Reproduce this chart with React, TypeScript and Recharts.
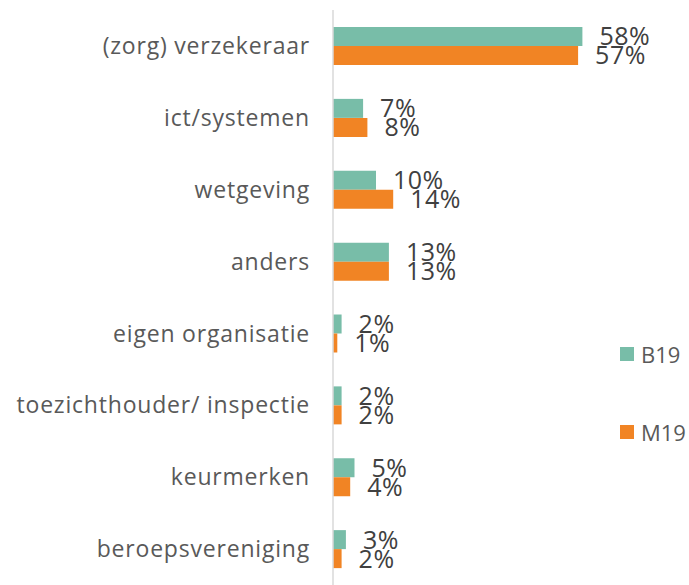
import { BarChart, Bar, XAxis, YAxis, LabelList } from "recharts"

const categories = [
  "(zorg) verzekeraar",
  "ict/systemen",
  "wetgeving",
  "anders",
  "eigen organisatie",
  "toezichthouder/ inspectie",
  "keurmerken",
  "beroepsvereniging",
]
const b19 = [58, 7, 10, 13, 2, 2, 5, 3]
const m19 = [57, 8, 14, 13, 1, 2, 4, 2]

const seriesNames = ["B19", "M19"]
const colors = ["#78bda8", "#f18424"]

const data = categories.map((name, i) => ({ name, B19: b19[i], M19: m19[i] }))

const font = "'Open Sans', sans-serif"

export default function App() {
  return (
    <div style={{ position: "absolute", left: 0, top: 0, width: 689, height: 585, background: "#fff", fontFamily: font }}>
      <BarChart
        width={689}
        height={585}
        data={data}
        layout="vertical"
        margin={{ top: 10, right: 12, left: 0, bottom: 0 }}
        barGap={0}
        barSize={19}
      >
        <XAxis type="number" domain={[0, 80]} hide />
        <YAxis
          type="category"
          dataKey="name"
          width={333}
          tickLine={false}
          tickMargin={17}
          axisLine={{ stroke: "#d9d9d9", strokeWidth: 1.5 }}
          tick={{ fill: "#595959", fontSize: 23, fontFamily: font, letterSpacing: 0.8 }}
          interval={0}
        />
        {seriesNames.map((s, i) => (
          <Bar key={s} dataKey={s} fill={colors[i]} isAnimationActive={false}>
            <LabelList
              dataKey={s}
              position="right"
              offset={17}
              formatter={(v: number) => `${v}%`}
              style={{ fill: "#404040", fontSize: 25, fontFamily: font, letterSpacing: 0.5 }}
            />
          </Bar>
        ))}
      </BarChart>
      {seriesNames.map((s, i) => (
        <div
          key={s}
          style={{
            position: "absolute",
            left: 620,
            top: 339 + i * 78,
            display: "flex",
            alignItems: "center",
            color: "#595959",
            fontSize: 22,
          }}
        >
          <span style={{ width: 14, height: 14, background: colors[i], display: "inline-block", marginRight: 7 }} />
          {s}
        </div>
      ))}
    </div>
  )
}
